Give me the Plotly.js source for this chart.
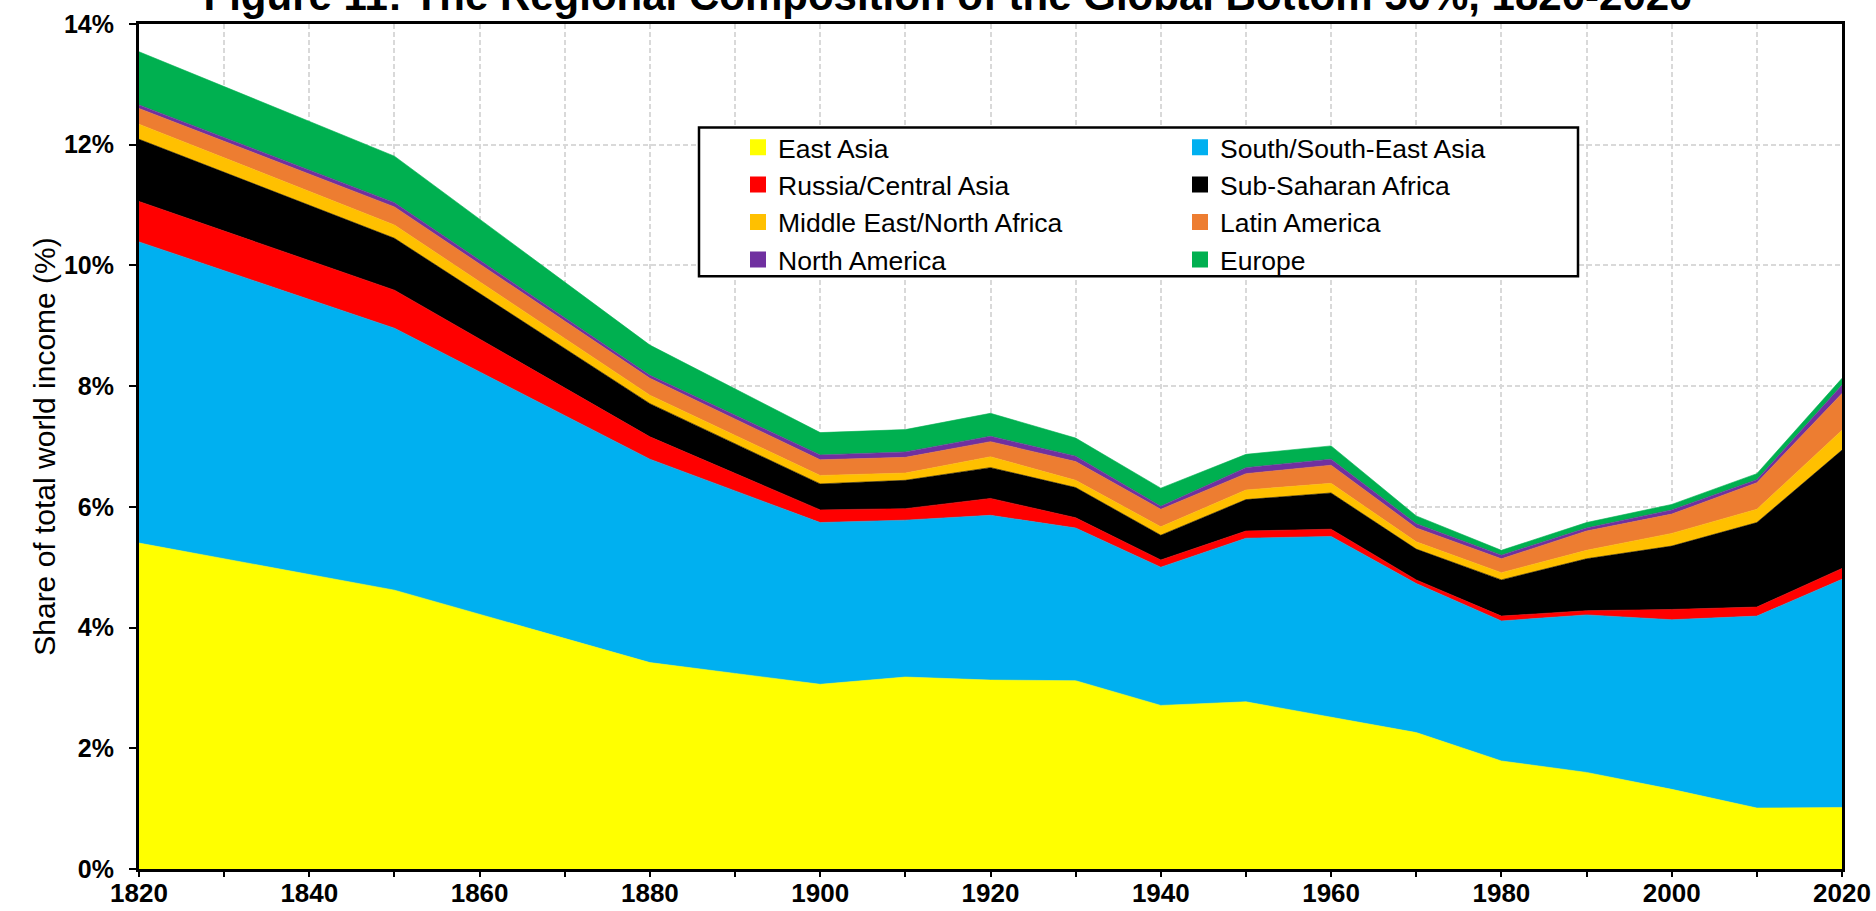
<!DOCTYPE html>
<html>
<head>
<meta charset="utf-8">
<script src="https://cdn.plot.ly/plotly-3.0.1.min.js"></script>
<style>
html,body{margin:0;padding:0;background:#ffffff;}
#chart{width:1876px;height:911px;}
</style>
</head>
<body>
<div id="chart"></div>
<script>
// ---------------- DATA (share of total world income, %) ----------------
const years = [1820, 1850, 1880, 1900, 1910, 1920, 1930, 1940, 1950, 1960, 1970, 1980, 1990, 2000, 2010, 2020];
const eastAsia   = [5.40, 4.62, 3.42, 3.06, 3.18, 3.13, 3.12, 2.71, 2.77, 2.52, 2.26, 1.79, 1.60, 1.32, 1.01, 1.02];
const southAsia  = [4.99, 4.34, 3.37, 2.68, 2.60, 2.73, 2.53, 2.29, 2.71, 2.99, 2.47, 2.32, 2.61, 2.81, 3.18, 3.78];
const russia     = [0.67, 0.63, 0.37, 0.21, 0.19, 0.28, 0.17, 0.12, 0.12, 0.12, 0.06, 0.08, 0.07, 0.17, 0.15, 0.18];
const ssAfrica   = [1.03, 0.86, 0.55, 0.43, 0.47, 0.51, 0.50, 0.41, 0.52, 0.60, 0.51, 0.60, 0.86, 1.05, 1.40, 1.96];
const mena       = [0.25, 0.22, 0.14, 0.14, 0.12, 0.18, 0.12, 0.14, 0.16, 0.16, 0.12, 0.12, 0.14, 0.21, 0.22, 0.33];
const latAm      = [0.26, 0.30, 0.28, 0.26, 0.26, 0.25, 0.31, 0.29, 0.27, 0.30, 0.23, 0.23, 0.32, 0.32, 0.44, 0.61];
const northAm    = [0.06, 0.07, 0.05, 0.08, 0.09, 0.09, 0.09, 0.05, 0.10, 0.10, 0.07, 0.06, 0.05, 0.07, 0.05, 0.14];
const europe     = [0.88, 0.77, 0.50, 0.37, 0.37, 0.38, 0.30, 0.30, 0.22, 0.22, 0.13, 0.08, 0.09, 0.09, 0.10, 0.11];

const regionNames = ["East Asia", "South/South-East Asia", "Russia/Central Asia", "Sub-Saharan Africa",
                     "Middle East/North Africa", "Latin America", "North America", "Europe"];
const regionValues = [eastAsia, southAsia, russia, ssAfrica, mena, latAm, northAm, europe];
const regionColors = ["#FFFF00", "#00B0F0", "#FF0000", "#000000", "#FFC000", "#ED7D31", "#7030A0", "#00B050"];

const xTickYears = [1820, 1840, 1860, 1880, 1900, 1920, 1940, 1960, 1980, 2000, 2020];
const yTickValues = [0, 2, 4, 6, 8, 10, 12, 14];
const yTickLabels = ["0%", "2%", "4%", "6%", "8%", "10%", "12%", "14%"];

const chartTitle = "Figure 11: The Regional Composition of the Global Bottom 50%, 1820-2020";
const yTitle = "Share of total world income (%)";

// ---------------- LAYOUT GEOMETRY (pixels) ----------------
const W = 1876, H = 911;
const PL = 139, PR = 1842, PT = 23.5, PB = 869;
const px2x = p => (p - PL) / (PR - PL);
const px2y = p => (PB - p) / (PB - PT);

const FONT = "Liberation Sans, Arial, Helvetica, sans-serif";
const gridColor = "#D9D9D9";
const gridDash = "5px,3px";

// ---------------- TRACES ----------------
const traces = [];
regionNames.forEach((name, i) => {
  traces.push({
    type: "scatter",
    x: years,
    y: regionValues[i],
    name: name,
    stackgroup: "one",
    mode: "lines",
    line: {color: regionColors[i], width: 0.6},
    fillcolor: regionColors[i],
    showlegend: false,
    hoverinfo: "x+y+name"
  });
});
// legend-only entries (square swatches), two columns
regionNames.forEach((name, i) => {
  traces.push({
    type: "scatter",
    x: [null],
    y: [null],
    name: name,
    mode: "markers",
    marker: {symbol: "square", size: 16, color: regionColors[i], line: {width: 0}},
    showlegend: true,
    legend: (i % 2 === 0) ? "legend" : "legend2",
    hoverinfo: "skip"
  });
});

const legendCommon = {
  xanchor: "left", yanchor: "top",
  y: px2y(123),
  traceorder: "normal",
  bgcolor: "rgba(0,0,0,0)", borderwidth: 0,
  font: {family: FONT, size: 26.5, color: "#000000"},
  orientation: "v",
  itemclick: false, itemdoubleclick: false
};

const layout = {
  width: W, height: H,
  margin: {l: PL, r: W - PR, t: PT, b: H - PB, pad: 0},
  paper_bgcolor: "#ffffff",
  plot_bgcolor: "#ffffff",
  font: {family: FONT, color: "#000000"},
  showlegend: true,
  title: {
    text: chartTitle,
    font: {family: FONT, size: 42, weight: 700, color: "#000000"},
    xref: "container", x: 948 / W, xanchor: "center",
    yref: "container", y: 1 - 10 / H, yanchor: "bottom"
  },
  xaxis: {
    range: [1820, 2020],
    tickmode: "array",
    tickvals: xTickYears,
    ticktext: xTickYears.map(String),
    ticks: "outside", ticklen: 5, tickwidth: 1.5, tickcolor: "#000000",
    tickfont: {family: FONT, size: 26, weight: 700, color: "#000000"},
    ticklabelstandoff: -6,
    showline: true, linecolor: "#000000", linewidth: 3, mirror: true,
    showgrid: true, gridcolor: gridColor, gridwidth: 1.5, griddash: gridDash,
    zeroline: false,
    minor: {
      tickmode: "linear", tick0: 1820, dtick: 10,
      ticks: "outside", ticklen: 5, tickwidth: 1.5, tickcolor: "#000000",
      showgrid: true, gridcolor: gridColor, gridwidth: 1.5, griddash: gridDash
    },
    fixedrange: true
  },
  yaxis: {
    range: [0, 14],
    tickmode: "array",
    tickvals: yTickValues,
    ticktext: yTickLabels,
    ticks: "outside", ticklen: 7, tickwidth: 2, tickcolor: "#000000",
    tickfont: {family: FONT, size: 25, weight: 700, color: "#000000"},
    ticklabelstandoff: 10,
    showline: true, linecolor: "#000000", linewidth: 3, mirror: true,
    showgrid: true, gridcolor: gridColor, gridwidth: 1.5, griddash: gridDash,
    zeroline: false,
    title: {text: yTitle, font: {family: FONT, size: 30, color: "#000000"}, standoff: 0},
    fixedrange: true
  },
  legend: Object.assign({}, legendCommon, {x: px2x(738)}),
  legend2: Object.assign({}, legendCommon, {x: px2x(1180)}),
  shapes: [{
    type: "rect", xref: "paper", yref: "paper",
    x0: px2x(699), x1: px2x(1578), y0: px2y(276), y1: px2y(127),
    line: {color: "#000000", width: 2.5},
    fillcolor: "#ffffff",
    layer: "above"
  }]
};

Plotly.newPlot("chart", traces, layout, {displayModeBar: false, staticPlot: false, responsive: false});
</script>
</body>
</html>
